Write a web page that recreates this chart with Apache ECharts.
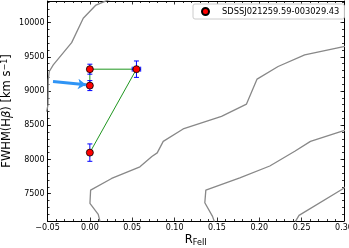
<!DOCTYPE html>
<html><head><meta charset="utf-8">
<script src="https://cdn.jsdelivr.net/npm/echarts@6/dist/echarts.min.js"></script>
<style>html,body{margin:0;padding:0;background:#fff}#c{width:349px;height:248px}</style>
</head><body><div id="c"></div>
<script>
// ---- data ----
var objName = 'SDSSJ021259.59-003029.43';
var rFe = [0.000, 0.000, 0.055, 0.000];
var fwhm = [9080, 9320, 9320, 8100];
var rFeErr = [0.003, 0.000, 0.005, 0.000];
var fwhmErr = [73, 73, 120, 127];
var xTicks = [-0.05, 0.00, 0.05, 0.10, 0.15, 0.20, 0.25, 0.30];
var yTicks = [7500, 8000, 8500, 9000, 9500, 10000];
var contourA = [[0.030,10360],[0.0213,10331],[0.0072,10258],[-0.0078,10064],[-0.0215,9708],[-0.0432,9383],[-0.0479,9286],[-0.0491,9165],[-0.0494,8800],[-0.051,8700]];
var contourB = [[0.012,7090],[0.0111,7109],[0.0099,7197],[0.0001,7357],[0.0009,7551],[0.0257,7722],[0.0591,7892],[0.0732,8042],[0.0795,8096],[0.0866,8265],[0.1101,8446],[0.1554,8630],[0.1849,8810],[0.1974,9175],[0.2222,9359],[0.2536,9529],[0.2996,9650],[0.302,9655]];
var contourC = [[0.147,7090],[0.146,7109],[0.1448,7168],[0.1357,7367],[0.1369,7551],[0.177,7732],[0.2124,7904],[0.2419,8120],[0.2604,8265],[0.2997,8421],[0.302,8428]];
var contourD = [[0.2425,7090],[0.2439,7108],[0.2469,7182],[0.2988,7571],[0.302,7600]];
var arrowFrom = [-0.0435, 9140];
var arrowTo = [-0.0046, 9092];

var FONT = 'DejaVu Sans';
var pts = rFe.map(function(x,i){return [x, fwhm[i]];});
var errData = rFe.map(function(x,i){return [x, fwhm[i], rFeErr[i], fwhmErr[i]];});
var YMIN = 7100, YMAX = 10317;

function mkY(pos, major, labels){
  var o = {type:'value', position:pos, min:YMIN, max:YMAX, scale:true,
    axisLine:{show:!major, onZero:false, lineStyle:{color:'#000', width:1}},
    splitLine:{show:false},
    axisTick:{show:true, inside:true, length: major?3.5:2, lineStyle:{color:'#000', width:0.8}},
    axisLabel:{show:false}};
  if (major) { o.axisTick.customValues = yTicks; }
  else { o.interval = 100; }
  if (labels) {
    o.axisLabel = {show:true, fontFamily:FONT, fontSize:8, color:'#000', margin:3,
      formatter:function(v){ return (v % 500 === 0 && v >= 7500 && v <= 10000) ? String(v) : ''; }};
    o.name = 'FWHM(H{b|β}) [km s{sup|−1}]';
    o.nameLocation = 'middle';
    o.nameGap = 33;
    o.nameMoveOverlap = false;
    o.nameTextStyle = {fontFamily:FONT, fontSize:11.5, color:'#000',
      rich:{b:{fontFamily:FONT, fontSize:11.5, fontStyle:'italic'}, sup:{fontFamily:FONT, fontSize:8, verticalAlign:'top', padding:[0,0,6,0]}}};
  }
  return o;
}
function mkX(pos, labels){
  var o = {type:'value', position:pos, min:-0.05, max:0.30, interval:0.05,
    axisLine:{show:true, onZero:false, lineStyle:{color:'#000', width:1}},
    splitLine:{show:false},
    axisTick:{show:true, inside:true, length:3.5, lineStyle:{color:'#000', width:0.8}},
    minorTick:{show:true, splitNumber:5, length:2, lineStyle:{color:'#000', width:0.8}},
    axisLabel:{show:labels, fontFamily:FONT, fontSize:8, color:'#000', margin:3,
      formatter:function(v){ var s = (Math.round(v*100)/100).toFixed(2); return s.replace('-', '−'); }}};
  if (labels) {
    o.name = 'R{sub|FeII}';
    o.nameLocation = 'middle';
    o.nameGap = 12;
    o.nameMoveOverlap = false;
    o.nameTextStyle = {fontFamily:FONT, fontSize:11.5, color:'#000',
      rich:{sub:{fontFamily:FONT, fontSize:8, padding:[6,0,0,0]}}};
  }
  return o;
}

var chart = echarts.init(document.getElementById('c'), null, {renderer:'canvas'});
var contourStyle = function(d){ return {type:'line', data:d, xAxisIndex:0, yAxisIndex:0, symbol:'none', clip:true, silent:true,
  lineStyle:{color:'#888888', width:1.3}, z:1}; };
chart.setOption({
  animation:false,
  grid:{left:47.5, right:5, top:1, bottom:27, containLabel:false, outerBoundsMode:'none'},
  xAxis:[mkX('bottom', true), mkX('top', false)],
  yAxis:[mkY('left', false, true), mkY('left', true, false), mkY('right', false, false), mkY('right', true, false)],
  legend:{show:true, data:[objName], left:193, top:4, padding:[3,5,3,8], itemWidth:7, itemHeight:7,
    borderColor:'#cccccc', borderWidth:1, borderRadius:2, backgroundColor:'#fff',
    textStyle:{fontFamily:FONT, fontSize:8.3, color:'#000', padding:[0,0,0,8]}},
  series:[
    contourStyle(contourA), contourStyle(contourB), contourStyle(contourC), contourStyle(contourD),
    {type:'line', name:'track', data:pts, symbol:'none', lineStyle:{color:'#1f961f', width:1}, z:2, silent:true},
    {type:'custom', name:'err', data:errData, z:3, silent:true,
      renderItem:function(params, api){
        var x = api.value(0), y = api.value(1), xe = api.value(2), ye = api.value(3);
        var c = api.coord([x,y]);
        var top = api.coord([x, y+ye]), bot = api.coord([x, y-ye]);
        var st = {stroke:'#0000ff', lineWidth:1};
        var ch = [
          {type:'line', shape:{x1:c[0], y1:top[1], x2:c[0], y2:bot[1]}, style:st},
          {type:'line', shape:{x1:c[0]-2.5, y1:top[1], x2:c[0]+2.5, y2:top[1]}, style:st},
          {type:'line', shape:{x1:c[0]-2.5, y1:bot[1], x2:c[0]+2.5, y2:bot[1]}, style:st}
        ];
        if (xe > 0) {
          var l = api.coord([x-xe, y]), r = api.coord([x+xe, y]);
          ch.push({type:'line', shape:{x1:l[0], y1:c[1], x2:r[0], y2:c[1]}, style:st});
          ch.push({type:'line', shape:{x1:l[0], y1:c[1]-2.5, x2:l[0], y2:c[1]+2.5}, style:st});
          ch.push({type:'line', shape:{x1:r[0], y1:c[1]-2.5, x2:r[0], y2:c[1]+2.5}, style:st});
        }
        return {type:'group', children:ch};
      }},
    {type:'scatter', name:objName, data:pts, symbol:'circle', symbolSize:7, z:4,
      itemStyle:{color:'#ff0000', borderColor:'#000', borderWidth:0.8, opacity:1}},
    {type:'lines', coordinateSystem:'cartesian2d', z:5, silent:true,
      data:[{coords:[arrowFrom, arrowTo]}],
      symbol:['none','arrow'], symbolSize:[0,8],
      lineStyle:{color:'#2f94f5', width:3, opacity:1}}
  ]
});
</script></body></html>
